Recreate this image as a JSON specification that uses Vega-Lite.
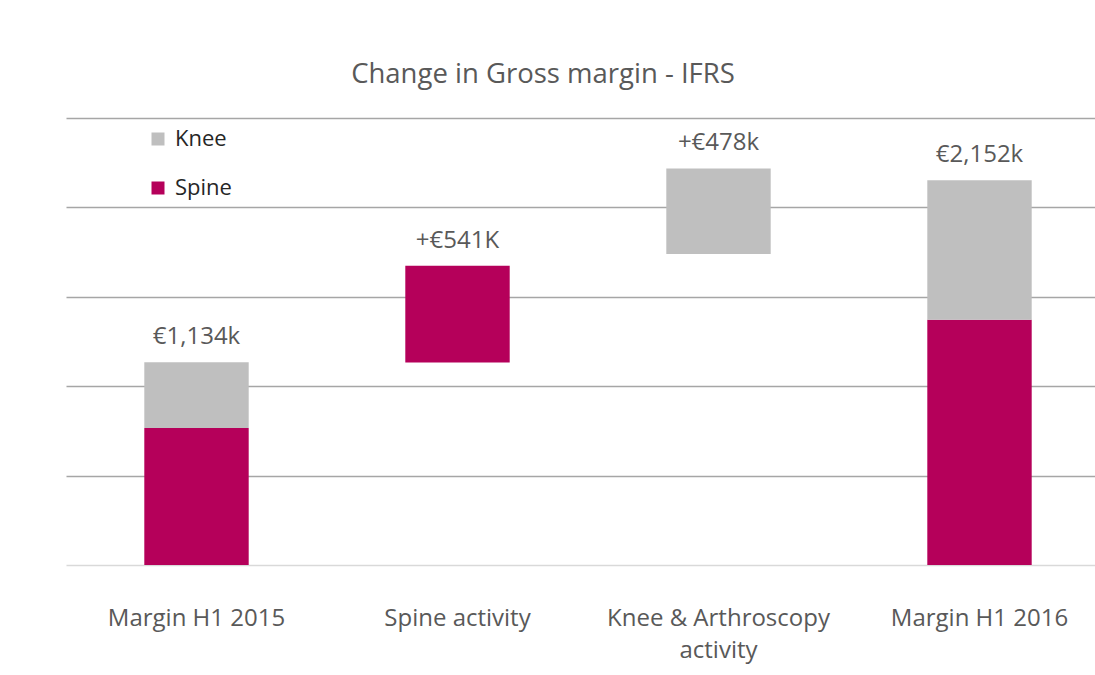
{
  "$schema": "https://vega.github.io/schema/vega-lite/v6.json",
  "width": 1044,
  "height": 447,
  "autosize": {"type": "none"},
  "padding": {"left": 66, "top": 118, "right": 0, "bottom": 110},
  "background": "white",
  "config": {"view": {"stroke": null}},
  "title": {
    "text": "Change in Gross margin - IFRS",
    "font": "Open Sans",
    "fontSize": 27.5,
    "fontWeight": "normal",
    "color": "#595959",
    "anchor": "middle",
    "dx": -45,
    "offset": 30
  },
  "datasets": {
    "bars": [
      {"category": "Margin H1 2015", "series": "Spine", "start": 0, "end": 766},
      {"category": "Margin H1 2015", "series": "Knee", "start": 766, "end": 1134},
      {"category": "Spine activity", "series": "Spine", "start": 1132, "end": 1673},
      {"category": "Knee & Arthroscopy activity", "series": "Knee", "start": 1740, "end": 2218},
      {"category": "Margin H1 2016", "series": "Spine", "start": 0, "end": 1372},
      {"category": "Margin H1 2016", "series": "Knee", "start": 1372, "end": 2152}
    ],
    "labels": [
      {"category": "Margin H1 2015", "top": 1134, "text": "€1,134k"},
      {"category": "Spine activity", "top": 1673, "text": "+€541K"},
      {"category": "Knee & Arthroscopy activity", "top": 2218, "text": "+€478k"},
      {"category": "Margin H1 2016", "top": 2152, "text": "€2,152k"}
    ]
  },
  "layer": [
    {
      "data": {"name": "bars"},
      "mark": {"type": "bar"},
      "encoding": {
        "x": {
          "field": "category",
          "type": "nominal",
          "sort": null,
          "scale": {"paddingInner": 0.6, "paddingOuter": 0.3},
          "axis": {
            "title": null,
            "labelAngle": 0,
            "labelFont": "Open Sans",
            "labelFontSize": 24,
            "labelColor": "#595959",
            "labelPadding": 41,
            "labelLineHeight": 32,
            "labelLimit": 400,
            "ticks": false,
            "domain": false,
            "labelExpr": "datum.label == 'Knee & Arthroscopy activity' ? ['Knee & Arthroscopy', 'activity'] : datum.label"
          }
        },
        "y": {
          "field": "start",
          "type": "quantitative",
          "scale": {"domain": [0, 2500], "nice": false},
          "axis": {
            "title": null,
            "labels": false,
            "ticks": false,
            "domain": false,
            "values": [0, 500, 1000, 1500, 2000, 2500],
            "grid": true,
            "gridColor": {"condition": {"test": "datum.value == 0", "value": "#d9d9d9"}, "value": "#a6a6a6"},
            "gridWidth": 1.3
          }
        },
        "y2": {"field": "end"},
        "color": {
          "field": "series",
          "type": "nominal",
          "scale": {"domain": ["Knee", "Spine"], "range": ["#bfbfbf", "#b5005a"]},
          "legend": {
            "orient": "none",
            "legendX": 81,
            "legendY": 10,
            "title": null,
            "padding": 0,
            "symbolType": "square",
            "symbolSize": 169,
            "symbolStrokeWidth": 0,
            "labelFont": "Open Sans",
            "labelFontSize": 22,
            "labelColor": "#262626",
            "labelOffset": 6,
            "rowPadding": 27
          }
        }
      }
    },
    {
      "data": {"name": "labels"},
      "mark": {"type": "text", "font": "Open Sans", "fontSize": 24, "color": "#595959", "baseline": "middle", "dy": -25},
      "encoding": {
        "x": {"field": "category", "type": "nominal", "sort": null},
        "y": {"field": "top", "type": "quantitative"},
        "text": {"field": "text"}
      }
    }
  ]
}
